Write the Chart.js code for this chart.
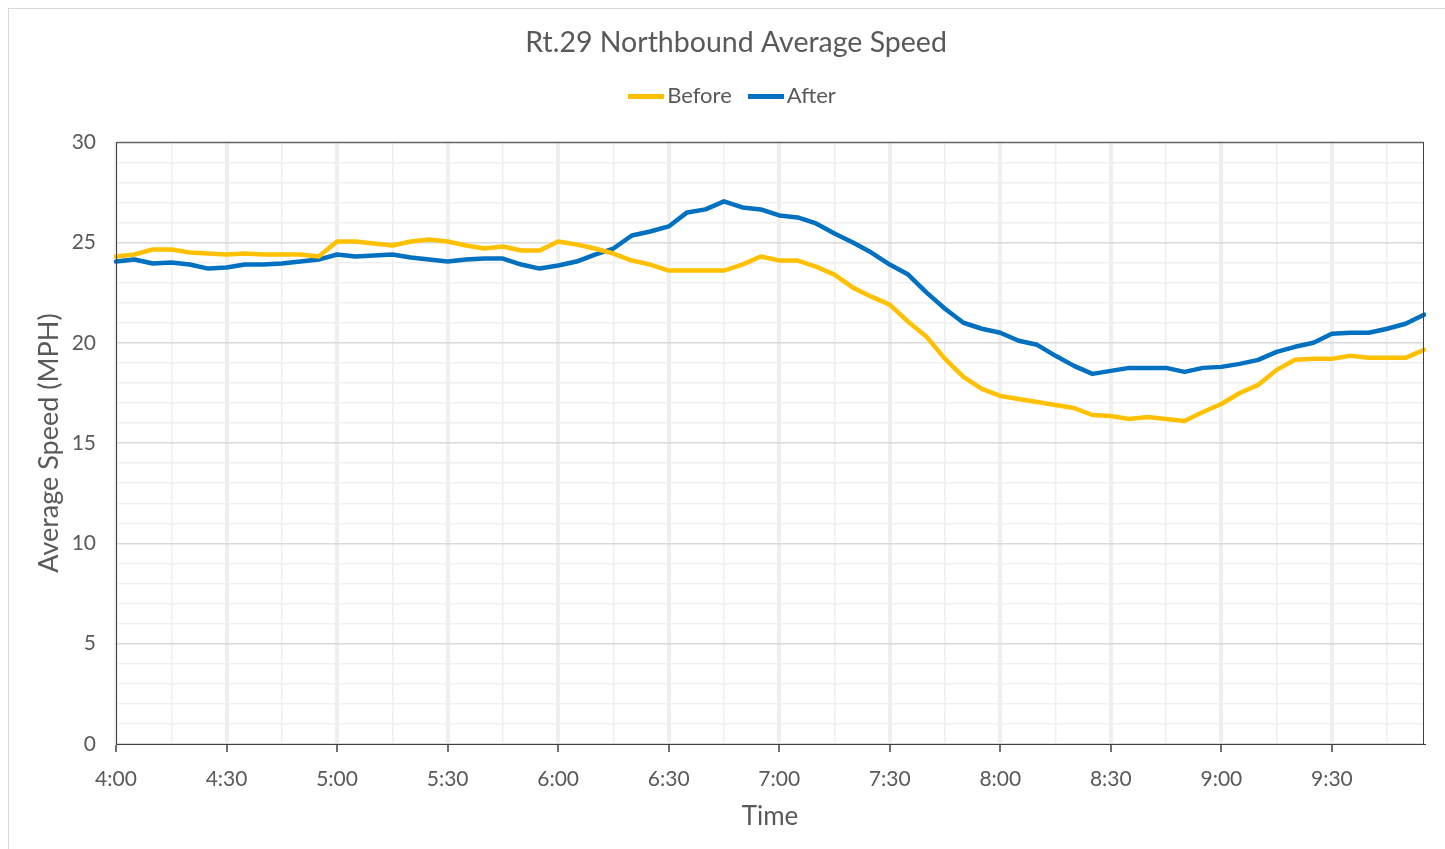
<!DOCTYPE html>
<html>
<head>
<meta charset="utf-8">
<title>Rt.29 Northbound Average Speed</title>
<script src="https://cdn.jsdelivr.net/npm/chart.js@4.4.1/dist/chart.umd.min.js"></script>
<style>
  html, body { margin: 0; padding: 0; background: #fff; overflow: hidden; }
  #frame {
    position: absolute; left: 8px; top: 8px;
    width: 1456px; height: 850px;
    border: 1px solid #d9d9d9; box-sizing: border-box;
  }
  #wrap { position: absolute; left: 0; top: 0; width: 1454px; height: 841px; }
</style>
</head>
<body>
<div id="frame"><div id="wrap"><canvas id="chart"></canvas></div></div>
<script>
// 5-minute bins, 4:00 to 9:55
const timeLabels = [
  '4:00','4:05','4:10','4:15','4:20','4:25','4:30','4:35','4:40','4:45','4:50','4:55',
  '5:00','5:05','5:10','5:15','5:20','5:25','5:30','5:35','5:40','5:45','5:50','5:55',
  '6:00','6:05','6:10','6:15','6:20','6:25','6:30','6:35','6:40','6:45','6:50','6:55',
  '7:00','7:05','7:10','7:15','7:20','7:25','7:30','7:35','7:40','7:45','7:50','7:55',
  '8:00','8:05','8:10','8:15','8:20','8:25','8:30','8:35','8:40','8:45','8:50','8:55',
  '9:00','9:05','9:10','9:15','9:20','9:25','9:30','9:35','9:40','9:45','9:50','9:55'
];

const beforeSpeed = [
  24.3, 24.4, 24.65, 24.65, 24.5, 24.45, 24.4, 24.45, 24.4, 24.4, 24.4, 24.3,
  25.05, 25.05, 24.95, 24.85, 25.05, 25.15, 25.05, 24.85, 24.7, 24.8, 24.6, 24.6,
  25.05, 24.9, 24.7, 24.45, 24.1, 23.9, 23.6, 23.6, 23.6, 23.6, 23.9, 24.3,
  24.1, 24.1, 23.8, 23.4, 22.75, 22.3, 21.9, 21.05, 20.3, 19.2, 18.3, 17.7,
  17.35, 17.2, 17.05, 16.9, 16.75, 16.4, 16.35, 16.2, 16.3, 16.2, 16.1, 16.55,
  16.95, 17.5, 17.9, 18.65, 19.15, 19.2, 19.2, 19.35, 19.25, 19.25, 19.25, 19.65
];

const afterSpeed = [
  24.05, 24.15, 23.95, 24.0, 23.9, 23.7, 23.75, 23.9, 23.9, 23.95, 24.05, 24.15,
  24.4, 24.3, 24.35, 24.4, 24.25, 24.15, 24.05, 24.15, 24.2, 24.2, 23.9, 23.7,
  23.85, 24.05, 24.4, 24.7, 25.35, 25.55, 25.8, 26.5, 26.65, 27.05, 26.75, 26.65,
  26.35, 26.25, 25.95, 25.45, 25.0, 24.5, 23.9, 23.4, 22.5, 21.7, 21.0, 20.7,
  20.5, 20.1, 19.9, 19.35, 18.85, 18.45, 18.6, 18.75, 18.75, 18.75, 18.55, 18.75,
  18.8, 18.95, 19.15, 19.55, 19.8, 20.0, 20.45, 20.5, 20.5, 20.7, 20.95, 21.4
];

const yTicks = [0, 5, 10, 15, 20, 25, 30];

const FONT = 'Lato, "Open Sans", sans-serif';
const TEXT = '#595959';
const AXIS = '#404040';

// legend swatch: a 36px line that sits close to its label (Excel style)
function legendSwatch(color) {
  const c = document.createElement('canvas');
  c.width = 36; c.height = 5;
  const g = c.getContext('2d');
  g.fillStyle = color;
  g.fillRect(0, 0, 36, 5);
  return c;
}

// dark frame round the plot area, like Excel's plot-area border
const plotBorder = {
  id: 'plotBorder',
  afterDraw(chart) {
    const { ctx, chartArea: a } = chart;
    ctx.save();
    ctx.strokeStyle = AXIS;
    ctx.lineWidth = 1;
    ctx.strokeRect(a.left + 0.5, a.top + 0.5, a.right - a.left - 1, a.bottom - a.top);
    ctx.restore();
  }
};

// extra room under the legend, before the plot starts
const legendGap = {
  id: 'legendGap',
  afterInit(chart) {
    const lg = chart.legend;
    if (!lg) return;
    const fit = lg.fit.bind(lg);
    lg.fit = function () { fit(); this.height += 25; };
  }
};

new Chart(document.getElementById('chart'), {
  type: 'line',
  data: {
    labels: timeLabels,
    datasets: [
      { label: 'Before', data: beforeSpeed, borderColor: '#FFC000', backgroundColor: '#FFC000',
        borderWidth: 4.5, pointRadius: 0, tension: 0, borderJoinStyle: 'round', borderCapStyle: 'round' },
      { label: 'After', data: afterSpeed, borderColor: '#0070C0', backgroundColor: '#0070C0',
        borderWidth: 4.5, pointRadius: 0, tension: 0, borderJoinStyle: 'round', borderCapStyle: 'round' },
    ]
  },
  options: {
    responsive: true,
    maintainAspectRatio: false,
    animation: false,
    layout: { padding: 0 },
    plugins: {
      title: {
        display: true,
        text: 'Rt.29 Northbound Average Speed',
        color: TEXT,
        font: { family: FONT, size: 28.5, weight: 'normal' },
        padding: { top: 16.5, bottom: 1.5 },
      },
      legend: {
        display: true,
        labels: {
          color: TEXT,
          font: { family: FONT, size: 22 },
          usePointStyle: true,
          pointStyleWidth: 20,
          boxHeight: 22,
          padding: 24,
          generateLabels(chart) {
            const items = Chart.defaults.plugins.legend.labels.generateLabels(chart);
            items.forEach(it => {
              it.pointStyle = legendSwatch(chart.data.datasets[it.datasetIndex].borderColor);
            });
            return items;
          },
        },
      },
      tooltip: { enabled: false },
    },
    scales: {
      x: {
        type: 'category',
        offset: false,
        border: { color: AXIS, width: 1 },
        grid: {
          color: c => (c.index % 3 === 0 ? '#efefef' : 'rgba(0,0,0,0)'),
          lineWidth: c => (c.index % 6 === 0 ? 4 : 1.5),
          tickColor: c => (c.index % 6 === 0 ? AXIS : 'rgba(0,0,0,0)'),
          tickWidth: 1.5,
          tickLength: 8,
        },
        ticks: {
          autoSkip: false,
          maxRotation: 0,
          color: TEXT,
          font: { family: FONT, size: 21 },
          padding: 15,
          callback: (v, i) => (i % 6 === 0 ? timeLabels[i] : ''),
        },
        title: {
          display: true,
          text: 'Time',
          color: TEXT,
          font: { family: FONT, size: 26 },
          padding: { top: 0, bottom: 18 },
        },
        afterFit: s => { s.height = 106; },
      },
      y: {
        min: 0,
        max: 30,
        border: { color: AXIS, width: 1 },
        grid: {
          color: c => (yTicks.includes(c.tick.value) ? '#d9d9d9' : '#f0f0f0'),
          lineWidth: 1.5,
          drawTicks: false,
        },
        ticks: {
          stepSize: 1,
          autoSkip: false,
          color: TEXT,
          font: { family: FONT, size: 21 },
          padding: 20,
          callback: v => (yTicks.includes(v) ? v : ''),
        },
        title: {
          display: true,
          text: 'Average Speed (MPH)',
          color: TEXT,
          font: { family: FONT, size: 27 },
          padding: { top: 24, bottom: 0 },
        },
        afterFit: s => { s.width = 107; },
      },
      // empty right-hand strip so the plot ends where Excel's does
      yRight: {
        position: 'right',
        min: 0,
        max: 30,
        grid: { display: false },
        border: { display: false },
        ticks: { display: false },
        afterFit: s => { s.width = 39; },
      },
    },
  },
  plugins: [plotBorder, legendGap],
});
</script>
</body>
</html>
